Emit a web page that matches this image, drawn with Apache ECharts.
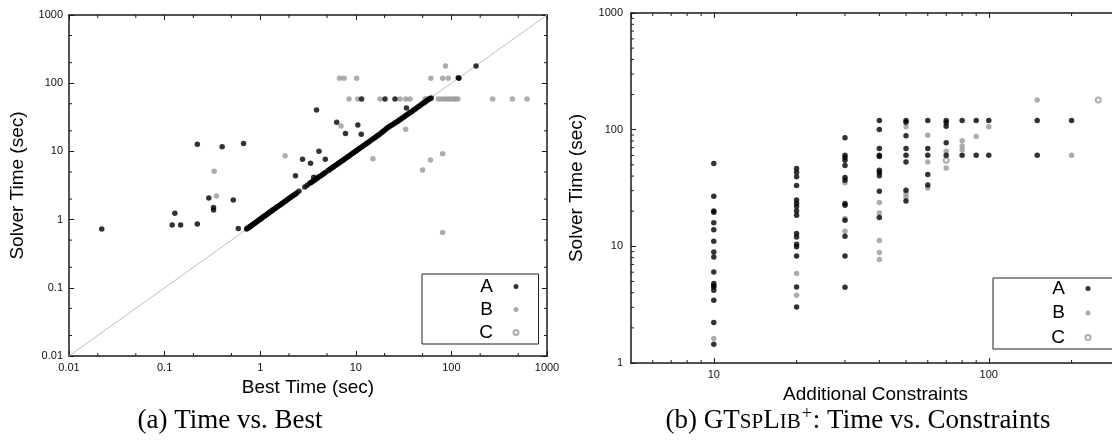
<!DOCTYPE html>
<html><head><meta charset="utf-8">
<script src="https://cdn.jsdelivr.net/npm/echarts@6/dist/echarts.min.js"></script>
<style>html,body{margin:0;padding:0;background:#fff}#c{width:1112px;height:445px}</style>
</head><body><div id="c"></div>
<script>
// ---------- data: (a) Time vs. Best ----------
const diagBest = [0.72,0.73,0.75,0.76,0.78,0.79,0.81,0.83,0.85,0.87,0.89,0.91,0.93,0.95,0.98,1.0,1.03,1.05,1.08,1.1,1.13,1.16,1.19,1.22,1.25,1.28,1.32,1.35,1.39,1.43,1.47,1.51,1.55,1.6,1.64,1.69,1.74,1.79,1.84,1.9,1.95,2.01,2.07,2.14,2.2,2.27,2.34,2.41,
  2.54,2.93,3.1,
  3.3,3.4,3.5,3.6,3.72,3.84,3.96,4.08,4.2,4.35,4.5,4.65,4.8,
  5.1,5.25,5.4,5.55,5.7,5.85,6.0,6.2,6.4,6.6,6.8,7.0,7.2,7.4,7.6,7.85,8.1,8.35,8.6,8.9,9.2,9.5,9.8,10.1,10.4,10.7,11.0,11.4,11.8,12.2,12.6,13.0,13.4,13.8,14.3,14.8,15.3,15.8,16.3,16.8,17.3,17.9,18.5,19.1,19.7,20.3,21.0,21.7,22.4,23.1,23.8,24.6,25.4,26.2,27.0,27.9,28.8,29.7,30.6,31.6,32.6,33.6,34.7,
  35.8,37.0,38.2,39.4,40.6,41.9,43.2,44.6,46.0,47.5,49.0,50.6,52.2,53.9,55.6,57.4,59.2];
const diagSolver = [0.73,0.74,0.75,0.77,0.78,0.8,0.82,0.83,0.86,0.88,0.9,0.92,0.94,0.97,0.99,1.02,1.04,1.07,1.1,1.12,1.15,1.18,1.21,1.24,1.27,1.31,1.34,1.38,1.42,1.46,1.5,1.54,1.58,1.63,1.67,1.72,1.77,1.82,1.88,1.93,1.99,2.05,2.11,2.18,2.24,2.31,2.38,2.45,
  2.6,3.0,3.2,
  3.4,3.5,3.6,3.7,3.82,3.95,4.05,4.2,4.3,4.45,4.6,4.75,4.9,
  5.2,5.35,5.5,5.65,5.8,5.95,6.1,6.3,6.5,6.7,6.9,7.1,7.3,7.5,7.7,7.95,8.2,8.45,8.7,9.0,9.3,9.6,9.9,10.2,10.5,10.8,11.1,11.5,11.9,12.3,12.7,13.1,13.5,13.9,14.4,14.9,15.4,15.9,16.4,16.9,17.4,18.0,18.7,19.4,20.1,20.8,21.6,22.4,23.2,23.8,24.4,25.1,25.8,26.5,27.3,28.1,29.0,29.9,30.8,31.8,32.8,33.8,34.9,
  35.9,37.1,38.3,39.5,40.7,42.0,43.3,44.7,46.1,47.6,49.1,50.7,52.3,54.0,55.7,57.5,59.0];
const bestA = [[0.022,0.73],[0.12,0.83],[0.128,1.24],[0.147,0.83],[0.22,0.86],[0.22,12.7],[0.29,2.07],[0.325,1.51],[0.325,1.38],[0.40,11.7],[0.523,1.94],[0.59,0.74],[0.67,13.1],
  [2.34,4.39],[2.77,7.66],[3.36,6.69],[3.63,4.17],[3.88,40.5],[4.12,10.07],[4.80,7.66],[6.31,26.7],[7.8,18.3],[10.5,24.4],[11.4,17.9],[11.5,58.7],[20.2,58.7],[25.7,58.7],[33.9,43.3],
  [60.4,59.5],[61.5,60.5],[120,118],[118,120],[181,179]];
const bestB = [[0.33,5.11],[0.349,2.22],[1.82,8.65],[7.0,23.6],[15.1,7.82],[33.3,21.1],[49.9,5.34],[60.4,7.48],[81,9.25],[81,0.647],
  [6.75,118],[7.53,118],[10.2,118],[60.9,118],[81,118],[92.9,118],[86.7,179],
  [8.49,58.7],[10.5,58.7],[17.9,58.7],[29.0,58.7],[33.3,58.7],[36.9,58.7],[52.9,58.7],[55.2,58.7],[73,58.7],[79,58.7],[85,58.7],[91,58.7],[97,58.7],[104,58.7],[110,58.7],[117,58.7],[270,58.7],[434,58.7],[618,58.7]];
const bestC = [];
// ---------- data: (b) Time vs. Constraints ----------
const consA = [
  [10,51.3],[10,26.9],[10,20.1],[10,19.6],[10,15.9],[10,13.9],[10,11.06],[10,8.95],[10,8.11],[10,6.03],[10,4.8],[10,4.6],[10,4.48],[10,4.2],[10,3.45],[10,2.22],[10,1.45],
  [20,46.5],[20,43.2],[20,39.5],[20,33.2],[20,24.9],[20,23.4],[20,21.9],[20,20.1],[20,18.5],[20,12.9],[20,12.0],[20,10.4],[20,9.9],[20,8.27],[20,4.48],[20,3.02],
  [30,85.1],[30,60.4],[30,57.8],[30,54.7],[30,49.3],[30,38.9],[30,36.9],[30,23.3],[30,22.5],[30,16.7],[30,12.2],[30,8.27],[30,4.46],
  [40,120],[40,100.4],[40,69.0],[40,60.4],[40,59.0],[40,45.0],[40,42.9],[40,40.2],[40,29.7],[40,17.7],
  [50,120],[50,116],[50,88.5],[50,69.0],[50,60.4],[50,52.9],[50,30.3],[50,24.5],
  [60,120],[60,69.0],[60,60.4],[60,41.3],[60,33.6],
  [70,120],[70,114.4],[70,107.2],[70,77.1],[70,60.4],
  [80,120],[80,60.4],[90,120],[90,60.4],[100,120],[100,60.4],[150,120],[150,60.4],[200,120]];
const consB = [[10,1.62],[20,5.85],[20,3.81],[30,35.0],[30,17.3],[30,13.5],
  [40,23.7],[40,19.3],[40,11.2],[40,8.85],[40,7.7],[50,105.7],[50,28.4],[50,26.5],
  [60,89.7],[60,52.9],[60,31.7],[70,65.4],[70,47.0],[80,80.2],[80,72.6],[80,67.4],
  [90,87.4],[100,105.7],[150,180],[200,60.4]];
const consC = [[70,54.7],[250,180]];
// ---------- axes ----------
const leftRange = [0.01, 1000];
const rightXRange = [5, 300];
const rightYRange = [1, 1000];
const leftMinor = [0.02,0.05,0.2,0.5,2,5,20,50,200,500];
const rightMinorX = [6,7,8,9,20,30,40,50,60,70,80,90,200];
const rightMinorY = [2,3,4,5,6,7,8,9,20,30,40,50,60,70,80,90,200,300,400,500,600,700,800,900];
const diagLine = [[0.01,0.01],[1000,1000]];

const INK = '#1a1a1a';
const fmt = v => String(+(+v).toPrecision(6));
function axisBase(extra) {
  return Object.assign({
    type: 'log', logBase: 10,
    axisLine: { show: true, onZero: false, lineStyle: { color: INK, width: 1.5 } },
    axisTick: { show: true, inside: true, length: 5, lineStyle: { color: INK, width: 1 } },
    axisLabel: { show: true, fontSize: 11, color: '#111', margin: 6, formatter: fmt, fontFamily: 'Liberation Sans' },
    splitLine: { show: false }, minorTick: { show: false }, minorSplitLine: { show: false },
    nameTextStyle: { fontSize: 19, color: '#000', fontFamily: 'Liberation Sans' }
  }, extra);
}
const mirror = { axisLabel: { show: false } };

function minorTicks(dim, len) {
  return function (params, api) {
    const cs = params.coordSys;
    const p = api.coord([api.value(0), api.value(1)]);
    const st = { stroke: INK, lineWidth: 1 };
    if (dim === 'x') {
      const b = cs.y + cs.height, t = cs.y;
      return { type: 'group', children: [
        { type: 'line', shape: { x1: p[0], y1: b, x2: p[0], y2: b - len }, style: st },
        { type: 'line', shape: { x1: p[0], y1: t, x2: p[0], y2: t + len }, style: st } ] };
    }
    const l = cs.x, r = cs.x + cs.width;
    return { type: 'group', children: [
      { type: 'line', shape: { x1: l, y1: p[1], x2: l + len, y2: p[1] }, style: st },
      { type: 'line', shape: { x1: r, y1: p[1], x2: r - len, y2: p[1] }, style: st } ] };
  };
}

const legendBase = {
  orient: 'vertical', align: 'right', itemWidth: 36, itemHeight: 5,
  borderColor: '#222', borderWidth: 1, backgroundColor: '#fff',
  formatter: n => '{t|' + n + '}',
  textStyle: { rich: { t: { width: 60, align: 'right', fontSize: 19, lineHeight: 20, color: '#000', fontFamily: 'Liberation Sans' } } },
  data: [
    { name: 'A', icon: 'circle', itemStyle: { color: '#000' } },
    { name: 'B', icon: 'circle', itemStyle: { color: '#999' } },
    { name: 'C', icon: 'emptyCircle', itemStyle: { color: '#999', borderColor: '#999', borderWidth: 1 } }
  ]
};

const symA = { type: 'scatter', name: 'A', symbolSize: 5.5, itemStyle: { color: '#000' }, z: 4 };
const symB = { type: 'scatter', name: 'B', symbolSize: 5.5, itemStyle: { color: '#999' }, z: 3 };
const symC = { type: 'scatter', name: 'C', symbol: 'emptyCircle', symbolSize: 5, itemStyle: { color: '#999', borderColor: '#999', borderWidth: 1 }, z: 3 };

const chart = echarts.init(document.getElementById('c'), null, { renderer: 'canvas' });
chart.setOption({
  animation: false,
  backgroundColor: '#fff',
  textStyle: { fontFamily: 'Liberation Sans' },
  grid: [
    { left: 69, top: 15, width: 478, height: 341, outerBoundsMode: 'none', containLabel: false },
    { left: 631, top: 13, width: 489, height: 350, outerBoundsMode: 'none', containLabel: false }
  ],
  xAxis: [
    axisBase({ gridIndex: 0, min: leftRange[0], max: leftRange[1], position: 'bottom', name: 'Best Time (sec)', nameLocation: 'middle', nameGap: 17 }),
    axisBase(Object.assign({ gridIndex: 0, min: leftRange[0], max: leftRange[1], position: 'top' }, mirror)),
    axisBase({ gridIndex: 1, min: rightXRange[0], max: rightXRange[1], position: 'bottom', name: 'Additional Constraints', nameLocation: 'middle', nameGap: 18,
      axisLabel: { show: true, fontSize: 11, color: '#111', margin: 6, formatter: fmt, showMinLabel: false, showMaxLabel: false } }),
    axisBase(Object.assign({ gridIndex: 1, min: rightXRange[0], max: rightXRange[1], position: 'top' }, mirror))
  ],
  yAxis: [
    axisBase({ gridIndex: 0, min: leftRange[0], max: leftRange[1], position: 'left', name: 'Solver Time (sec)', nameLocation: 'middle', nameGap: 42 }),
    axisBase(Object.assign({ gridIndex: 0, min: leftRange[0], max: leftRange[1], position: 'right' }, mirror)),
    axisBase({ gridIndex: 1, min: rightYRange[0], max: rightYRange[1], position: 'left', name: 'Solver Time (sec)', nameLocation: 'middle', nameGap: 45,
      axisLabel: { show: true, fontSize: 11, color: '#111', margin: 8, formatter: fmt } }),
    axisBase(Object.assign({ gridIndex: 1, min: rightYRange[0], max: rightYRange[1], position: 'right' }, mirror))
  ],
  legend: [
    Object.assign({ left: 422, top: 274, padding: [3, 19, 2, 11], itemGap: 4 }, legendBase),
    Object.assign({ left: 993, top: 278, padding: [1, 30, 2, 12], itemGap: 5.5 }, legendBase)
  ],
  series: [
    { type: 'line', name: 'diag', xAxisIndex: 0, yAxisIndex: 0, data: diagLine, showSymbol: false, silent: true,
      lineStyle: { color: '#bdbdbd', width: 1 }, z: 1 },
    Object.assign({}, symB, { xAxisIndex: 0, yAxisIndex: 0, data: bestB }),
    Object.assign({}, symC, { xAxisIndex: 0, yAxisIndex: 0, data: bestC }),
    Object.assign({}, symA, { xAxisIndex: 0, yAxisIndex: 0, data: diagBest.map((b, i) => [b, diagSolver[i]]).concat(bestA) }),
    Object.assign({}, symB, { xAxisIndex: 2, yAxisIndex: 2, data: consB }),
    Object.assign({}, symC, { xAxisIndex: 2, yAxisIndex: 2, data: consC }),
    Object.assign({}, symA, { xAxisIndex: 2, yAxisIndex: 2, data: consA }),
    { type: 'custom', name: 'mx0', xAxisIndex: 0, yAxisIndex: 0, silent: true, renderItem: minorTicks('x', 3), data: leftMinor.map(v => [v, leftRange[0]]) },
    { type: 'custom', name: 'my0', xAxisIndex: 0, yAxisIndex: 0, silent: true, renderItem: minorTicks('y', 3), data: leftMinor.map(v => [leftRange[0], v]) },
    { type: 'custom', name: 'mx1', xAxisIndex: 2, yAxisIndex: 2, silent: true, renderItem: minorTicks('x', 3), data: rightMinorX.map(v => [v, rightYRange[0]]) },
    { type: 'custom', name: 'my1', xAxisIndex: 2, yAxisIndex: 2, silent: true, renderItem: minorTicks('y', 3), data: rightMinorY.map(v => [rightXRange[0], v]) }
  ],
  graphic: [
    { type: 'text', x: 230, y: 421, style: { text: '(a) Time vs. Best', font: '27px "Liberation Serif"', fill: '#000', align: 'center', verticalAlign: 'middle' } },
    { type: 'text', x: 858, y: 421, style: {
        text: '{n|(b) GT}{s|SP}{n|L}{s|IB}{p|+}{n|: Time vs. Constraints}',
        align: 'center', verticalAlign: 'middle', fill: '#000',
        rich: {
          n: { fontSize: 27, fontFamily: 'Liberation Serif', color: '#000' },
          s: { fontSize: 21, fontFamily: 'Liberation Serif', color: '#000', padding: [3, 0, 0, 0] },
          p: { fontSize: 18, fontFamily: 'Liberation Serif', color: '#000', padding: [0, 1, 14, 1] }
        } } }
  ]
});
</script></body></html>
